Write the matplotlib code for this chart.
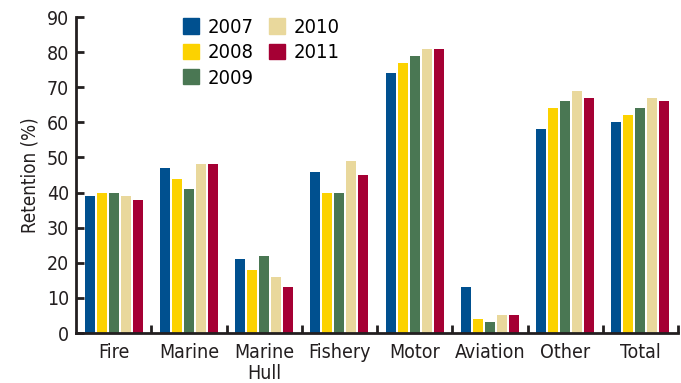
import matplotlib.pyplot as plt
import numpy as np
from matplotlib.patches import Patch

categories = ["Fire", "Marine", "Marine\nHull", "Fishery", "Motor", "Aviation", "Other", "Total"]
years = ["2007", "2008", "2009", "2010", "2011"]
v2007 = [39, 47, 21, 46, 74, 13, 58, 60]
v2008 = [40, 44, 18, 40, 77, 4, 64, 62]
v2009 = [40, 41, 22, 40, 79, 3, 66, 64]
v2010 = [39, 48, 16, 49, 81, 5, 69, 67]
v2011 = [38, 48, 13, 45, 81, 5, 67, 66]
colors = ["#00508f", "#fcd200", "#4a7753", "#e9d89c", "#a50034"]

# condensed face, closest to the original narrow font
plt.rcParams['font.family'] = ['DejaVu Sans']
plt.rcParams['font.stretch'] = 'condensed'
ink = "#231f20"

fig = plt.figure(figsize=(6.81, 3.83), dpi=100)
ax = fig.add_axes([0.1116, 0.1305, 0.884, 0.825])

x = np.arange(len(categories))
pitch = 0.159
width = 0.133
for i, vals in enumerate([v2007, v2008, v2009, v2010, v2011]):
    ax.bar(x + (i - 2) * pitch, vals, width, color=colors[i], label=years[i])

ax.set_xlim(-0.5, len(categories) - 0.5)
ax.set_ylim(0, 90)
ax.set_yticks(range(0, 91, 10))
ax.set_xticks(x)
ax.set_xticklabels(categories, fontsize=14, color=ink, linespacing=1.15)
ax.set_xticks(np.arange(0.5, len(categories), 1), minor=True)
ax.tick_params(axis='x', which='major', length=0, pad=7)
ax.tick_params(axis='x', which='minor', direction='in', length=6, width=2, color=ink)
ax.tick_params(axis='y', direction='in', length=6, width=2, color=ink, labelsize=14, labelcolor=ink, pad=5)
ax.set_ylabel("Retention (%)", fontsize=13.5, color=ink, labelpad=5)

for s in ["top", "right"]:
    ax.spines[s].set_visible(False)
ax.spines["left"].set_linewidth(2)
ax.spines["left"].set_color(ink)
ax.spines["bottom"].set_linewidth(2)
ax.spines["bottom"].set_color(ink)

handles = [Patch(color=c, label=y) for c, y in zip(colors, years)]
fig.legend(handles=handles, ncol=2, loc="upper left", bbox_to_anchor=(183 / 681, 1 - 18 / 383),
           frameon=False, fontsize=14.5, handlelength=0.8, handleheight=0.78,
           handletextpad=0.4, columnspacing=0.8, labelspacing=0.32,
           borderpad=0, borderaxespad=0)

fig.savefig("out.png", dpi=100)
